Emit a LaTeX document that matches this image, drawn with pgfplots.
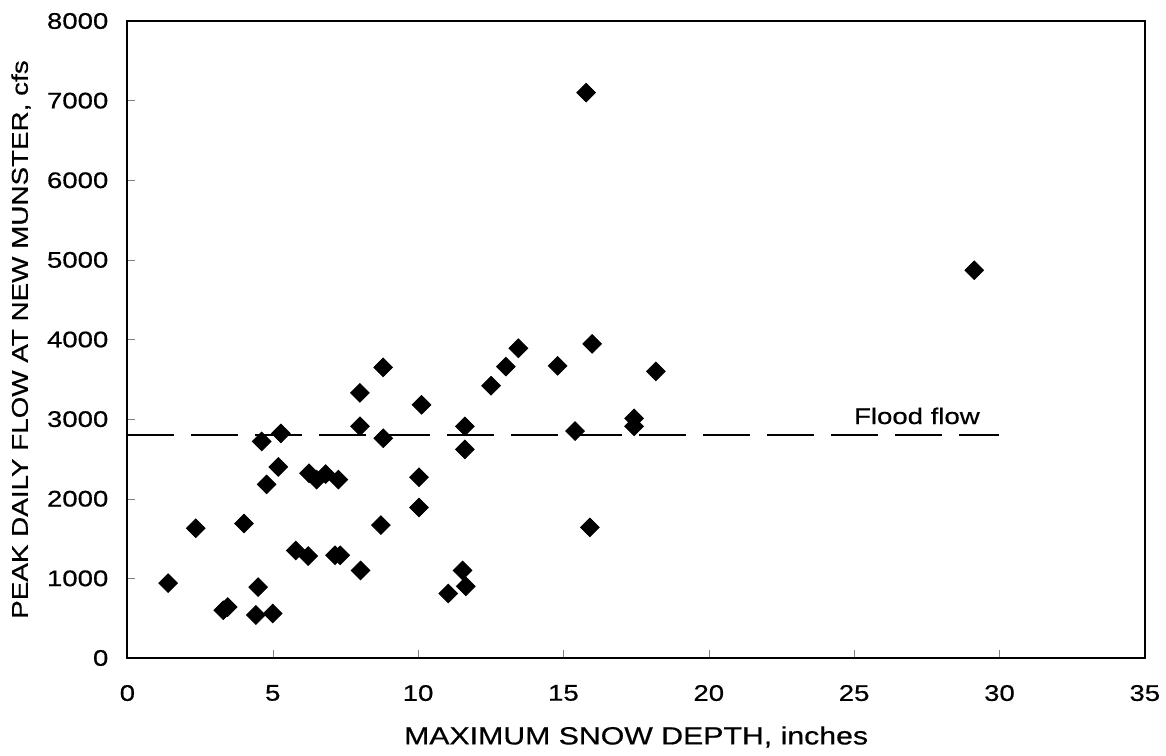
\documentclass[border=0pt]{standalone}
\usepackage{fontspec}
\setmainfont{Liberation Sans}[FakeStretch=1.22, FakeBold=0.6]
\usepackage{pgfplots}
\pgfplotsset{compat=1.18}

\begin{document}
\begin{tikzpicture}
\useasboundingbox (-63.7pt,-48.5pt) rectangle (519.3pt,329pt);
\begin{axis}[
    scale only axis,
    width=508.7pt,
    height=318.5pt,
    xmin=0, xmax=35,
    ymin=0, ymax=8000,
    xtick={0,5,...,35},
    ytick={0,1000,...,8000},
    tick align=inside,
    xtick pos=bottom,
    ytick pos=left,
    major tick length=4pt,
    axis line style={line width=1pt},
    clip=false,
    /pgf/number format/assume math mode=true,
    scaled y ticks=false,
    yticklabel style={/pgf/number format/set thousands separator={}, xshift=-6pt, font=\fontsize{11.3}{13}\selectfont},
    xticklabel style={yshift=-10pt, font=\fontsize{11.3}{13}\selectfont},
    xlabel={MAXIMUM SNOW DEPTH, inches},
    ylabel={PEAK DAILY FLOW AT NEW MUNSTER, cfs},
    xlabel style={at={(axis description cs:0.5,-0.124)}, anchor=center, font=\fontsize{12.4}{14}\selectfont},
    ylabel style={at={(axis description cs:-0.1046,0.5)}, anchor=center, font=\fontsize{11.4}{13}\selectfont},
]
% flood flow threshold
\addplot[black, line width=0.75pt, dash pattern=on 23.5pt off 8.5pt] coordinates {(0,2800) (30,2800)};
\node[font=\fontsize{11.3}{13}\selectfont] at (axis cs:27.16,3040) {Flood flow};

% observed years
\addplot[only marks, mark=square*, mark size=3.3pt, mark options={rotate=45, black, fill=black}] coordinates {
(1.4,940) (2.35,1630) (3.3,600) (3.45,640) (4.42,540) (5.0,560)
(4.5,890) (4.01,1690) (4.79,2180) (5.19,2400) (4.62,2720) (5.28,2820)
(5.79,1350) (6.22,1280) (7.14,1290) (7.32,1290) (6.25,2320) (6.51,2240)
(6.82,2310) (7.26,2240) (8.02,1100) (8.72,1670) (8.0,3330) (8.8,3650)
(8.0,2910) (8.8,2760) (10.12,3180) (10.03,2270) (10.03,1890) (11.04,810)
(11.53,1100) (11.64,900) (11.61,2910) (11.61,2620) (12.51,3420) (13.02,3660)
(13.45,3890) (14.8,3670) (15.99,3945) (15.4,2850) (15.91,1640) (17.43,3010)
(17.43,2910) (18.18,3600) (15.78,7100) (29.13,4870)
};
\end{axis}
\end{tikzpicture}
\end{document}
